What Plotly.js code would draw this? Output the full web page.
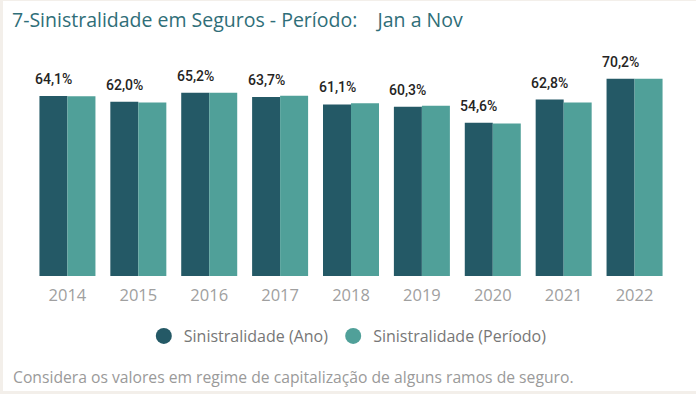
<!DOCTYPE html>
<html>
<head>
<meta charset="utf-8">
<script src="https://cdn.plot.ly/plotly-3.0.1.min.js"></script>
<style>
  html, body { margin: 0; padding: 0; background: #f3efea; width: 696px; height: 394px; overflow: hidden; }
  #chart { position: absolute; left: 3px; top: 1px; width: 693px; height: 390px; background: #ffffff; }
</style>
</head>
<body>
<div id="chart"></div>
<script>
// ---- data ----
const years = ['2014', '2015', '2016', '2017', '2018', '2019', '2020', '2021', '2022'];
const sinAno = [64.1, 62.0, 65.2, 63.7, 61.1, 60.3, 54.6, 62.8, 70.2];
const sinPeriodo = [64.0, 61.8, 65.2, 64.2, 61.5, 60.6, 54.3, 61.8, 70.2];
const seriesNames = ['Sinistralidade (Ano)', 'Sinistralidade (Período)'];
const titleText = '7-Sinistralidade em Seguros - Período:\u00a0\u00a0\u00a0 Jan a Nov';
const footerText = 'Considera os valores em regime de capitalização de alguns ramos de seguro.';

const darkColor = '#245966';
const lightColor = '#50a099';

const fmt = v => v.toFixed(1).replace('.', ',') + '%';

const traces = [
  { type: 'bar', x: years, y: sinAno, name: seriesNames[0], marker: { color: darkColor }, showlegend: false, hoverinfo: 'skip' },
  { type: 'bar', x: years, y: sinPeriodo, name: seriesNames[1], marker: { color: lightColor }, showlegend: false, hoverinfo: 'skip' },
  { type: 'scatter', mode: 'markers', x: [years[0]], y: [null], name: seriesNames[0], marker: { color: darkColor, size: 17, symbol: 'circle' } },
  { type: 'scatter', mode: 'markers', x: [years[0]], y: [null], name: seriesNames[1], marker: { color: lightColor, size: 17, symbol: 'circle' } }
];

const annotations = years.map((yr, i) => ({
  x: i, y: sinAno[i], xref: 'x', yref: 'y',
  text: fmt(sinAno[i]), showarrow: false,
  xanchor: 'center', yanchor: 'bottom', xshift: -14, yshift: 7,
  font: { family: 'Roboto, sans-serif', size: 14, weight: 500, color: '#252423' }
}));
annotations.push({
  text: footerText, xref: 'paper', yref: 'paper', x: -0.033, y: -0.468,
  xanchor: 'left', yanchor: 'middle', showarrow: false,
  font: { family: '"Open Sans", sans-serif', size: 15.7, color: '#9a9a9a' }
});

const layout = {
  width: 693, height: 390,
  paper_bgcolor: '#ffffff', plot_bgcolor: '#ffffff',
  margin: { l: 28.5, r: 25.5, t: 59, b: 115 },
  title: { text: titleText, x: 9 / 693, xanchor: 'left', xref: 'container', y: 0.951, yref: 'container', yanchor: 'middle',
           font: { family: '"Open Sans", sans-serif', size: 19.5, color: '#2f6e78' } },
  barmode: 'group', bargap: 0.21, bargroupgap: 0,
  xaxis: { type: 'category', range: [-0.5, years.length - 0.5], autorange: false,
           showgrid: false, zeroline: false, showline: false, ticks: '', ticklabelstandoff: 7,
           tickfont: { family: '"Open Sans", sans-serif', size: 16.5, color: '#a0a0a0' } },
  yaxis: { range: [0, 76.9], autorange: false, visible: false, showgrid: false, zeroline: false },
  showlegend: true,
  legend: { orientation: 'h', x: 0.495, xanchor: 'center', y: -0.278, yanchor: 'middle',
            font: { family: '"Open Sans", sans-serif', size: 16, color: '#777777' }, itemwidth: 30 },
  annotations: annotations,
  font: { family: '"Open Sans", sans-serif' }
};

Plotly.newPlot('chart', traces, layout, { displayModeBar: false, staticPlot: true });
</script>
</body>
</html>
